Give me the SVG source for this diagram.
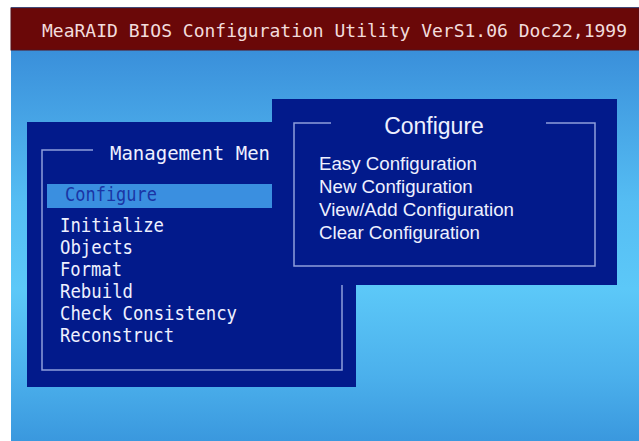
<svg xmlns="http://www.w3.org/2000/svg" width="639" height="441" viewBox="0 0 639 441">
<defs>
<linearGradient id="bg" x1="0" y1="0" x2="0" y2="1">
<stop offset="0" stop-color="#3182d2"/>
<stop offset="0.15" stop-color="#3e96de"/>
<stop offset="0.45" stop-color="#55bdf3"/>
<stop offset="0.65" stop-color="#5cc8f8"/>
<stop offset="0.85" stop-color="#4bb0ec"/>
<stop offset="1" stop-color="#3a98de"/>
</linearGradient>
<style>
.win{fill:#021a8b;}
.brd{fill:none;stroke:#8f9fdc;stroke-width:1.5;}
.mono{font-family:"DejaVu Sans Mono","Liberation Mono",monospace;fill:#eef0ff;}
.sans{font-family:"Liberation Sans",Arial,sans-serif;fill:#eef0ff;}
</style>
</defs>
<rect x="0" y="0" width="639" height="441" fill="#ffffff"/>
<rect x="11" y="7" width="628" height="434" fill="url(#bg)"/>
<g id="titlebar">
<rect x="11" y="8" width="628" height="42" fill="#6a0808" stroke="#54101a" stroke-width="1"/>
<text x="42" y="37" class="mono" font-size="18" textLength="585" lengthAdjust="spacingAndGlyphs" style="fill:#f2dcdc">MeaRAID BIOS Configuration Utility VerS1.06 Doc22,1999</text>
</g>
<g id="management-menu">
<rect class="win" x="27" y="122" width="329" height="265"/>
<path class="brd" d="M93,150 H42 V370 H342 V285"/>
<text x="110" y="160" class="mono" font-size="19" textLength="160" lengthAdjust="spacingAndGlyphs">Management Men</text>
<rect x="47" y="184" width="225" height="24" fill="#3a8fe0"/>
<text x="65" y="201" class="mono" font-size="19.5" textLength="92" lengthAdjust="spacingAndGlyphs" style="fill:#1a35a5">Configure</text>
<text x="60" y="232" class="mono" font-size="19.5" textLength="104" lengthAdjust="spacingAndGlyphs">Initialize</text>
<text x="60" y="254" class="mono" font-size="19.5" textLength="73" lengthAdjust="spacingAndGlyphs">Objects</text>
<text x="60" y="276" class="mono" font-size="19.5" textLength="62" lengthAdjust="spacingAndGlyphs">Format</text>
<text x="60" y="298" class="mono" font-size="19.5" textLength="73" lengthAdjust="spacingAndGlyphs">Rebuild</text>
<text x="60" y="320" class="mono" font-size="19.5" textLength="177" lengthAdjust="spacingAndGlyphs">Check Consistency</text>
<text x="60" y="342" class="mono" font-size="19.5" textLength="114" lengthAdjust="spacingAndGlyphs">Reconstruct</text>
</g>
<g id="configure-menu">
<rect class="win" x="272" y="99" width="345" height="186"/>
<path class="brd" d="M331,123 H294 V266 H595 V123 H546"/>
<text x="434" y="134" class="sans" font-size="23" text-anchor="middle">Configure</text>
<text x="319" y="170" class="sans" font-size="18.7">Easy Configuration</text>
<text x="319" y="193" class="sans" font-size="18.7">New Configuration</text>
<text x="319" y="216" class="sans" font-size="18.7">View/Add Configuration</text>
<text x="319" y="239" class="sans" font-size="18.7">Clear Configuration</text>
</g>
<g id="connectors"/>
</svg>
